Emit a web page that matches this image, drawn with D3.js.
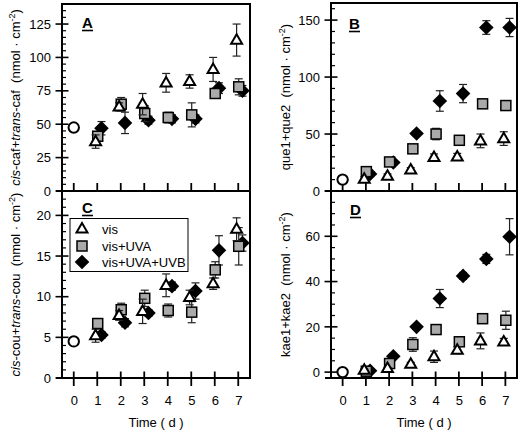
<!DOCTYPE html>
<html><head><meta charset="utf-8">
<script src="https://cdn.jsdelivr.net/npm/d3@7"></script>
<style>body{margin:0;background:#fff}svg{display:block;font-family:"Liberation Sans",Arial,sans-serif}.ttl{white-space:pre}</style>
</head><body><svg id="c" width="520" height="431"></svg>
<script>
const days = [1,2,3,4,5,6,7];
const seriesNames = ["vis","vis+UVA","vis+UVA+UVB"];
const dayOffsets = [-0.07, 0.02, 0.18];
const xTickLabels = ["0","1","2","3","4","5","6","7"];

// Panel A: cis-caf+trans-caf
const aInitial = 47.5;
const aVis = [37,63,65,81,82,91,113];
const aVisErr = [5,3,8,7,5,9,12];
const aUVA = [41,65,58,55,57,73,78];
const aUVAErr = [3,5,6,4,9,3,6];
const aUVB = [47,51,53,54,54,77,75];
const aUVBErr = [5,8,3,3,3,4,4];

// Panel B: que1+que2
const bInitial = 10;
const bVis = [10.5,13,18.5,29.5,30,44,46];
const bVisErr = [2,2,2,3,3,6,6];
const bUVA = [17,25.5,37,50,44.5,76.5,75];
const bUVAErr = [2,2,2,5,2,3,2];
const bUVB = [15,25,50.5,79,85.5,143.5,143.5];
const bUVBErr = [2,2,2,9,8,6,8];

// Panel C: cis-cou+trans-cou
const cInitial = 4.5;
const cVis = [5.2,7.7,8.2,11.4,9.9,11.6,18.3];
const cVisErr = [0.8,0.6,1.5,1.4,0.9,0.7,1.4];
const cUVA = [6.7,8.4,9.8,8.3,8.1,13.3,16.2];
const cUVAErr = [0.4,0.8,1.0,0.8,1.3,1.0,2.3];
const cUVB = [5.3,6.8,8.0,11.3,10.7,15.7,16.6];
const cUVBErr = [0.4,0.5,0.4,0.5,1.0,1.8,1.0];

// Panel D: kae1+kae2
const dInitial = 0;
const dVis = [0.9,1.6,3.5,6.8,9.7,13.8,13.4];
const dVisErr = [0.5,0.5,0.8,2.5,1.5,3.5,1.5];
const dUVA = [0.4,3.8,12.2,18.8,13.4,23.6,22.9];
const dUVAErr = [0.3,1.0,3.0,1.0,1.0,1.0,4.0];
const dUVB = [0.6,7.0,20.0,32.5,42.5,50.0,59.8];
const dUVBErr = [0.3,0.8,1.0,4.0,1.5,2.0,8.0];

const svg = d3.select("#c");
const font = 13;

const panels = [
  {label:"A", x0:62, x1:250, y0:4, y1:191, dom:[0,140], major:[0,25,50,75,100,125], minorStep:5, minorMax:140,
   init:aInitial, vals:[aVis,aUVA,aUVB], errs:[aVisErr,aUVAErr,aUVBErr], bottom:false, top:true,
   title:[["cis",true],["-caf+",false],["trans",true],["-caf  (nmol · cm",false]], titleX:20, lx:82, ly:28},
  {label:"B", x0:331, x1:517, y0:3, y1:191, dom:[0,165], major:[0,50,100,150], minorStep:10, minorMax:160,
   init:bInitial, vals:[bVis,bUVA,bUVB], errs:[bVisErr,bUVAErr,bUVBErr], bottom:false, top:true,
   title:[["que1+que2  (nmol · cm",false]], titleX:290, lx:349, ly:29},
  {label:"C", x0:62, x1:250, y0:191, y1:378, dom:[0,23], major:[0,5,10,15,20], minorStep:1, minorMax:22,
   init:cInitial, vals:[cVis,cUVA,cUVB], errs:[cVisErr,cUVAErr,cUVBErr], bottom:true, top:false,
   title:[["cis",true],["-cou+",false],["trans",true],["-cou  (nmol · cm",false]], titleX:20, lx:82, ly:213},
  {label:"D", x0:331, x1:517, y0:191, y1:378, dom:[-2.6,80], major:[0,20,40,60], minorStep:5, minorMax:75,
   init:dInitial, vals:[dVis,dUVA,dUVB], errs:[dVisErr,dUVAErr,dUVBErr], bottom:true, top:false,
   title:[["kae1+kae2  (nmol · cm",false]], titleX:290, lx:350, ly:215}
];

function drawMarker(g, kind, x, y){
  if(kind===0){
    const s=11, h=9.5;
    g.append("path").attr("d",`M${x},${y-h*0.62}L${x+s/2},${y+h*0.38}L${x-s/2},${y+h*0.38}Z`)
      .attr("fill","#fff").attr("stroke","#000").attr("stroke-width",2).attr("stroke-linejoin","miter");
  } else if(kind===1){
    g.append("rect").attr("x",x-5).attr("y",y-5).attr("width",10).attr("height",10)
      .attr("fill","#aaaaaa").attr("stroke","#000").attr("stroke-width",1.5);
  } else if(kind===2){
    const r=7.3;
    g.append("path").attr("d",`M${x},${y-r}L${x+r},${y}L${x},${y+r}L${x-r},${y}Z`).attr("fill","#000");
  } else {
    g.append("circle").attr("cx",x).attr("cy",y).attr("r",5.2).attr("fill","#fff").attr("stroke","#000").attr("stroke-width",2);
  }
}

panels.forEach(p=>{
  const x = d3.scaleLinear().domain([-0.5,7.5]).range([p.x0,p.x1]);
  const y = d3.scaleLinear().domain(p.dom).range([p.y1,p.y0]);
  const g = svg.append("g");

  g.append("line").attr("x1",p.x1).attr("x2",p.x1).attr("y1",p.y0).attr("y2",p.y1).attr("stroke","#000").attr("stroke-width",2);
  if(p.top) g.append("line").attr("x1",p.x0).attr("x2",p.x1+1).attr("y1",p.y0).attr("y2",p.y0).attr("stroke","#000").attr("stroke-width",2);

  const yAxis = d3.axisLeft(y).tickValues(p.major).tickSize(0).tickPadding(11).tickFormat(d3.format("d"));
  const ya = g.append("g").attr("transform",`translate(${p.x0},0)`).call(yAxis);
  ya.select(".domain").remove();
  ya.selectAll("text").attr("font-size",font).attr("font-family","Liberation Sans, Arial, sans-serif").attr("fill","#000");
  g.append("line").attr("x1",p.x0).attr("x2",p.x0).attr("y1",p.y0-1).attr("y2",p.y1+1).attr("stroke","#000").attr("stroke-width",2);
  p.major.forEach(v=>{
    g.append("line").attr("x1",p.x0-6.5).attr("x2",p.x0+6.5).attr("y1",y(v)).attr("y2",y(v)).attr("stroke","#000").attr("stroke-width",1.6);
  });
  d3.range(0,p.minorMax+0.001,p.minorStep).filter(v=>!p.major.includes(v)).forEach(v=>{
    g.append("line").attr("x1",p.x0).attr("x2",p.x0+4).attr("y1",y(v)).attr("y2",y(v)).attr("stroke","#000").attr("stroke-width",1.2);
  });

  g.append("line").attr("x1",p.x0-6).attr("x2",p.x1+1).attr("y1",p.y1).attr("y2",p.y1).attr("stroke","#000").attr("stroke-width",2);
  const xt = [0,1,2,3,4,5,6,7];
  xt.forEach(v=>{
    g.append("line").attr("x1",x(v)).attr("x2",x(v)).attr("y1",p.bottom? p.y1-6.5 : p.y1-8).attr("y2",p.bottom? p.y1+8 : p.y1)
      .attr("stroke","#000").attr("stroke-width",1.8);
  });
  if(p.bottom){
    const xAxis = d3.axisBottom(x).tickValues(xt).tickSize(0).tickPadding(0).tickFormat((d,i)=>xTickLabels[i]);
    const xa = g.append("g").attr("transform",`translate(0,${p.y1})`).call(xAxis);
    xa.select(".domain").remove();
    xa.selectAll("text").attr("font-size",font).attr("font-family","Liberation Sans, Arial, sans-serif").attr("fill","#000")
      .attr("dy",null).attr("y",27);
    g.append("text").attr("x",(x(0)+x(7))/2).attr("y",427).attr("text-anchor","middle").attr("font-size",font).text("Time ( d )");
  }

  const cy = (p.y0+p.y1)/2;
  const t = g.append("text").attr("class","ttl").attr("transform",`translate(${p.titleX},${cy}) rotate(-90)`).attr("text-anchor","middle").attr("font-size",font);
  p.title.forEach(([s,it])=>{ const ts=t.append("tspan").text(s); if(it) ts.attr("font-style","italic"); });
  t.append("tspan").attr("dy",-5).attr("font-size",9).text("-2");
  t.append("tspan").attr("dy",5).text(")");

  const lab = g.append("text").attr("x",p.lx).attr("y",p.ly).attr("font-size",15).attr("font-weight","bold").text(p.label);
  const bb = lab.node().getBBox();
  g.append("line").attr("x1",bb.x).attr("x2",bb.x+bb.width).attr("y1",p.ly+2.5).attr("y2",p.ly+2.5).attr("stroke","#000").attr("stroke-width",1.6);

  drawMarker(g,3,x(0),y(p.init));

  [2,1,0].forEach(si=>{
    const vals=p.vals[si], errs=p.errs[si];
    days.forEach((d,i)=>{
      const cx=x(d+dayOffsets[si]);
      const lo=y(vals[i]-errs[i]), hi=y(vals[i]+errs[i]);
      g.append("line").attr("x1",cx).attr("x2",cx).attr("y1",lo).attr("y2",hi).attr("stroke","#222").attr("stroke-width",1.2);
      [lo,hi].forEach(yy=>g.append("line").attr("x1",cx-4).attr("x2",cx+4).attr("y1",yy).attr("y2",yy).attr("stroke","#222").attr("stroke-width",1.2));
    });
    days.forEach((d,i)=>drawMarker(g,si,x(d+dayOffsets[si]),y(vals[i])));
  });

  if(p.label==="C"){
    const lg = svg.append("g");
    lg.append("rect").attr("x",70).attr("y",218.5).attr("width",118).attr("height",53).attr("fill","#fff").attr("stroke","#000").attr("stroke-width",1);
    const rowsY=[229,246,262];
    seriesNames.forEach((n,i)=>{
      drawMarker(lg,i,82,rowsY[i]);
      lg.append("text").attr("x",102).attr("y",rowsY[i]+4.5).attr("font-size",font).text(n);
    });
  }
});
</script></body></html>
